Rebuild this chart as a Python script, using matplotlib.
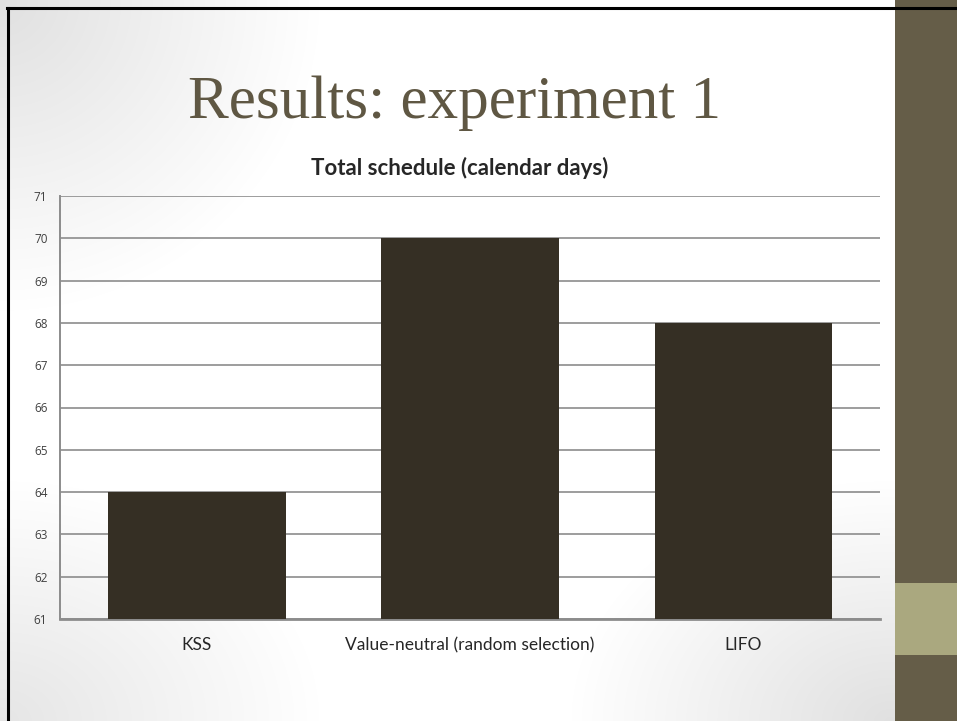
import numpy as np
import matplotlib
matplotlib.use("Agg")
import matplotlib.pyplot as plt
from matplotlib.patches import Rectangle

categories = ["KSS", "Value-neutral (random selection)", "LIFO"]
values = [64, 70, 68]
yticks = list(range(61, 72))

W, H = 957, 721
fig = plt.figure(figsize=(W / 100, H / 100), dpi=100)
fig.patch.set_facecolor("white")

# background gradient (subtle)
bg = fig.add_axes([0, 0, 1, 1], zorder=-10)
yy, xx = np.mgrid[0:H, 0:W]
d1 = np.sqrt((xx / W) ** 2 + (yy / H) ** 2 * 0.6)
d2 = np.sqrt(((xx - 890) / W) ** 2 + ((yy - H) / H) ** 2)
g = np.clip(0.88 + 0.12 * np.minimum(np.minimum(d1 * 3.0, 1), np.minimum(d2 * 3.0, 1)), 0, 1)
g = np.minimum(g, np.clip(0.90 + 0.10 * np.minimum(np.sqrt((xx / W) ** 2 + ((yy - H) / H) ** 2) * 3.0, 1), 0, 1))
img = np.dstack([g, g, g])
bg.imshow(img, extent=[0, W, H, 0], aspect="auto")
bg.set_xlim(0, W)
bg.set_ylim(H, 0)
bg.axis("off")
# right strip
bg.add_patch(Rectangle((895, 0), W - 895, H, color="#655d48", lw=0))
bg.add_patch(Rectangle((895, 583), W - 895, 72, color="#aaa87f", lw=0))
# border lines
bg.plot([7, W], [8, 8], color="black", lw=2.2)
bg.plot([8, 8], [8, H], color="black", lw=2.2)

fig.text(455 / W, 1 - 118 / H, "Results: experiment 1", ha="center", va="baseline",
         fontsize=44, color="#5f5743", family="Liberation Serif")
fig.text(460 / W, 1 - 175 / H, "Total schedule (calendar days)", ha="center", va="baseline",
         fontsize=16, fontweight="bold", color="#262626", family="Lato")

ax = fig.add_axes([60 / W, 1 - 619 / H, 820 / W, 423 / H])
ax.set_facecolor("none")
x = np.arange(len(categories))
ax.bar(x, values, width=0.65, color="#352f24", zorder=3, bottom=0)
ax.set_xlim(-0.5, len(categories) - 0.5)
ax.set_ylim(61, 71)
ax.set_yticks(yticks)
ax.set_yticklabels([str(t) for t in yticks], fontsize=8.5, color="#404040", family="Open Sans")
ax.set_xticks(x)
ax.set_xticklabels(categories, fontsize=12.5, color="#262626", family="Lato")
ax.tick_params(axis="y", length=0, pad=9)
ax.tick_params(axis="x", length=0, pad=13)
ax.yaxis.grid(True, color="#8c8c8c", lw=1.2, zorder=0)
for s in ["top", "right"]:
    ax.spines[s].set_visible(False)
ax.spines["left"].set_color("#8c8c8c")
ax.spines["bottom"].set_color("#8c8c8c")
ax.spines["left"].set_linewidth(1.4)
ax.spines["bottom"].set_linewidth(2.0)

fig.savefig("out.png", dpi=100)
